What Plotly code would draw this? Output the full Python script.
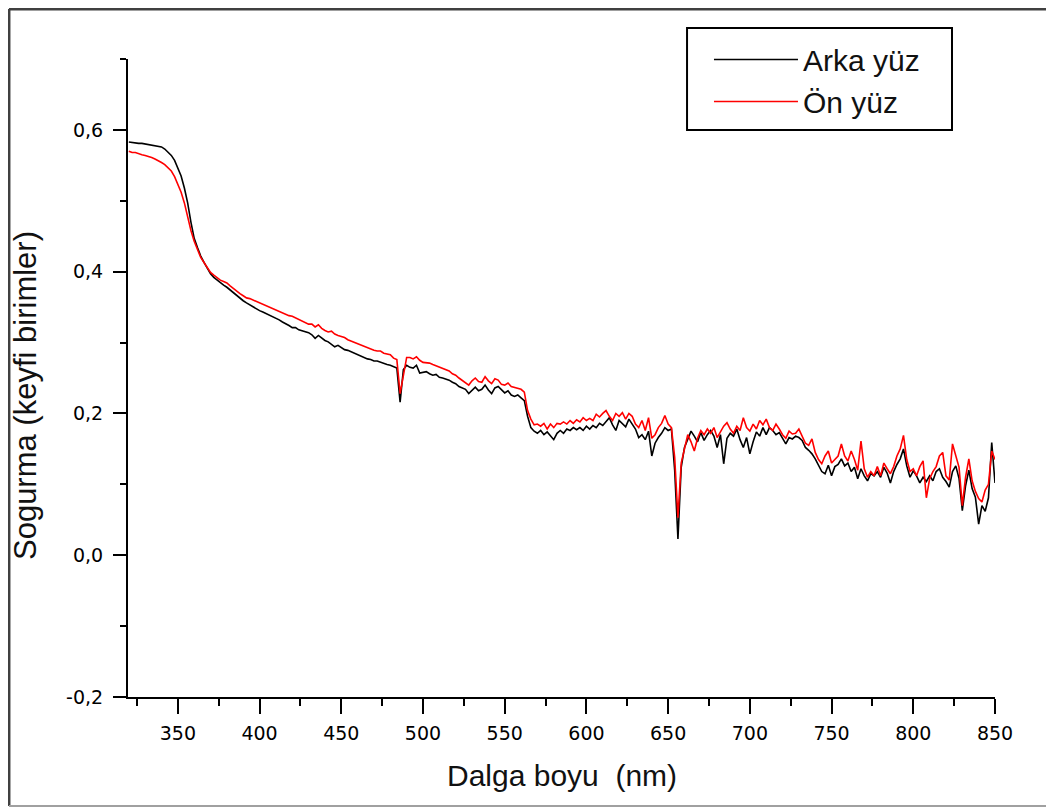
import plotly.graph_objects as go

wavelength_start = 320
wavelength_step = 2

arka_yuz = [
    0.583,0.582,0.582,0.581,0.581,0.580,0.579,0.578,0.578,0.577,
    0.576,0.573,0.569,0.564,0.557,0.547,0.535,0.518,0.497,0.470,
    0.447,0.434,0.422,0.413,0.404,0.397,0.392,0.388,0.384,0.381,
    0.378,0.374,0.370,0.366,0.362,0.359,0.356,0.353,0.351,0.347,
    0.345,0.343,0.341,0.338,0.336,0.334,0.332,0.329,0.327,0.324,
    0.321,0.321,0.318,0.317,0.315,0.314,0.311,0.306,0.310,0.306,
    0.303,0.301,0.298,0.294,0.296,0.293,0.290,0.289,0.287,0.285,
    0.283,0.280,0.279,0.277,0.276,0.274,0.274,0.272,0.271,0.269,
    0.268,0.266,0.264,0.216,0.262,0.268,0.265,0.264,0.268,0.257,
    0.258,0.259,0.256,0.254,0.255,0.251,0.250,0.249,0.247,0.244,
    0.242,0.238,0.236,0.234,0.228,0.233,0.237,0.232,0.234,0.240,
    0.233,0.228,0.236,0.238,0.233,0.229,0.232,0.226,0.224,0.226,
    0.222,0.218,0.196,0.180,0.175,0.172,0.176,0.170,0.174,0.168,
    0.163,0.172,0.176,0.172,0.178,0.176,0.180,0.177,0.180,0.176,
    0.182,0.178,0.183,0.180,0.186,0.183,0.189,0.194,0.184,0.176,
    0.190,0.186,0.181,0.192,0.185,0.178,0.166,0.170,0.163,0.175,
    0.140,0.158,0.166,0.172,0.180,0.176,0.178,0.120,0.023,0.124,
    0.152,0.165,0.175,0.168,0.160,0.173,0.162,0.170,0.176,0.168,
    0.152,0.170,0.129,0.165,0.172,0.168,0.178,0.163,0.152,0.166,
    0.143,0.160,0.174,0.168,0.180,0.170,0.180,0.176,0.170,0.173,
    0.164,0.157,0.166,0.164,0.168,0.166,0.162,0.152,0.148,0.143,
    0.136,0.128,0.118,0.115,0.127,0.112,0.125,0.128,0.136,0.126,
    0.130,0.118,0.124,0.108,0.122,0.112,0.105,0.115,0.112,0.118,
    0.110,0.124,0.116,0.102,0.118,0.128,0.136,0.150,0.126,0.110,
    0.119,0.112,0.102,0.110,0.104,0.112,0.105,0.118,0.122,0.110,
    0.104,0.096,0.118,0.126,0.108,0.063,0.098,0.120,0.094,0.082,
    0.044,0.070,0.062,0.081,0.159,0.102,
]

on_yuz = [
    0.570,0.568,0.568,0.566,0.565,0.564,0.563,0.561,0.559,0.557,
    0.554,0.551,0.547,0.542,0.534,0.524,0.512,0.497,0.476,0.458,
    0.443,0.431,0.420,0.413,0.405,0.399,0.395,0.391,0.388,0.386,
    0.384,0.380,0.376,0.372,0.369,0.366,0.363,0.362,0.360,0.358,
    0.356,0.354,0.351,0.349,0.347,0.345,0.344,0.341,0.340,0.338,
    0.337,0.335,0.333,0.330,0.328,0.326,0.326,0.322,0.325,0.320,
    0.317,0.315,0.316,0.312,0.310,0.309,0.307,0.304,0.302,0.301,
    0.298,0.296,0.294,0.293,0.291,0.289,0.288,0.288,0.285,0.284,
    0.283,0.278,0.276,0.228,0.255,0.279,0.279,0.277,0.280,0.275,
    0.272,0.272,0.271,0.269,0.267,0.266,0.263,0.262,0.260,0.256,
    0.254,0.250,0.247,0.244,0.240,0.246,0.250,0.245,0.244,0.252,
    0.246,0.242,0.249,0.247,0.241,0.240,0.243,0.238,0.237,0.236,
    0.234,0.230,0.204,0.192,0.184,0.185,0.182,0.186,0.178,0.185,
    0.180,0.186,0.185,0.188,0.185,0.190,0.186,0.191,0.188,0.194,
    0.190,0.193,0.190,0.199,0.195,0.200,0.204,0.196,0.190,0.200,
    0.196,0.201,0.192,0.200,0.196,0.185,0.180,0.190,0.176,0.194,
    0.165,0.170,0.180,0.186,0.197,0.185,0.180,0.138,0.053,0.130,
    0.152,0.170,0.160,0.147,0.165,0.176,0.170,0.178,0.172,0.180,
    0.166,0.175,0.182,0.187,0.178,0.172,0.182,0.176,0.194,0.180,
    0.175,0.185,0.178,0.190,0.184,0.192,0.180,0.176,0.185,0.178,
    0.170,0.165,0.175,0.171,0.172,0.178,0.168,0.158,0.155,0.164,
    0.145,0.135,0.129,0.140,0.147,0.130,0.135,0.140,0.157,0.140,
    0.133,0.147,0.135,0.120,0.161,0.122,0.110,0.118,0.112,0.125,
    0.112,0.130,0.122,0.115,0.125,0.140,0.150,0.169,0.135,0.118,
    0.122,0.112,0.125,0.133,0.081,0.108,0.118,0.125,0.140,0.145,
    0.112,0.106,0.157,0.140,0.124,0.070,0.110,0.136,0.105,0.090,
    0.080,0.075,0.092,0.100,0.147,0.135,
]

wavelengths = [wavelength_start + wavelength_step * i for i in range(len(arka_yuz))]

x_tick_vals = [350, 400, 450, 500, 550, 600, 650, 700, 750, 800, 850]
y_tick_vals = [-0.2, 0.0, 0.2, 0.4, 0.6]
y_tick_text = ["-0,2", "0,0", "0,2", "0,4", "0,6"]

fig = go.Figure()
fig.add_trace(go.Scatter(x=wavelengths, y=arka_yuz, mode="lines", name="Arka yüz",
                         line=dict(color="black", width=1.6)))
fig.add_trace(go.Scatter(x=wavelengths, y=on_yuz, mode="lines", name="Ön yüz",
                         line=dict(color="#ff0000", width=1.6)))

tick_font = dict(family="DejaVu Sans", size=19, color="black")

fig.update_layout(
    width=1046, height=802,
    margin=dict(l=120, r=59, t=51, b=113),
    paper_bgcolor="white", plot_bgcolor="white",
    font=dict(family="Liberation Sans, Arial", color="black"),
    showlegend=True,
    legend=dict(x=0.6701, y=1.040, xanchor="left", yanchor="top",
                borderwidth=0, bgcolor="rgba(0,0,0,0)",
                font=dict(family="Liberation Sans, Arial", size=30, color="#111"),
                itemwidth=84, tracegroupgap=0),
    xaxis=dict(range=[319.5, 850], showgrid=False, zeroline=False,
               showline=True, linecolor="black", linewidth=2,
               ticks="outside", ticklen=15, tickwidth=2, tickcolor="black",
               tickvals=x_tick_vals, tickfont=tick_font, ticklabelstandoff=3,
               minor=dict(ticks="outside", ticklen=7, tickwidth=2, tickcolor="black",
                          tick0=325, dtick=50)),
    yaxis=dict(range=[-0.2, 0.7], showgrid=False, zeroline=False,
               showline=True, linecolor="black", linewidth=2,
               ticks="outside", ticklen=13, tickwidth=2, tickcolor="black",
               tickvals=y_tick_vals, ticktext=y_tick_text, tickfont=tick_font,
               ticklabelstandoff=6,
               minor=dict(ticks="outside", ticklen=6, tickwidth=2, tickcolor="black",
                          tick0=-0.1, dtick=0.2)),
    annotations=[
        dict(text="Dalga boyu  (nm)", xref="paper", yref="paper", x=0.5006, y=-0.1238,
             xanchor="center", yanchor="middle", showarrow=False,
             font=dict(family="Liberation Sans, Arial", size=30, color="#111")),
        dict(text="Sogurma (keyfi birimler)", xref="paper", yref="paper", x=-0.1176, y=0.4718,
             xanchor="center", yanchor="middle", showarrow=False, textangle=-90,
             font=dict(family="Liberation Sans, Arial", size=31, color="#111")),
    ],
    shapes=[
        dict(type="rect", xref="paper", yref="paper", x0=0.6448, x1=0.9504, y0=0.8887, y1=1.0486,
             line=dict(color="black", width=2), fillcolor="rgba(0,0,0,0)", layer="below"),
        dict(type="line", xref="paper", yref="paper", x0=-0.1373, x1=-0.1373, y0=-0.1708, y1=1.0784,
             line=dict(color="#404040", width=3)),
        dict(type="line", xref="paper", yref="paper", x0=-0.1373, x1=1.0611, y0=1.0784, y1=1.0784,
             line=dict(color="#404040", width=3)),
        dict(type="line", xref="paper", yref="paper", x0=1.0611, x1=1.0611, y0=-0.1708, y1=1.0784,
             line=dict(color="#a0a0a0", width=2)),
        dict(type="line", xref="paper", yref="paper", x0=-0.1373, x1=1.0611, y0=-0.1708, y1=-0.1708,
             line=dict(color="#a0a0a0", width=2)),
    ],
)

fig.write_html("out.html")
